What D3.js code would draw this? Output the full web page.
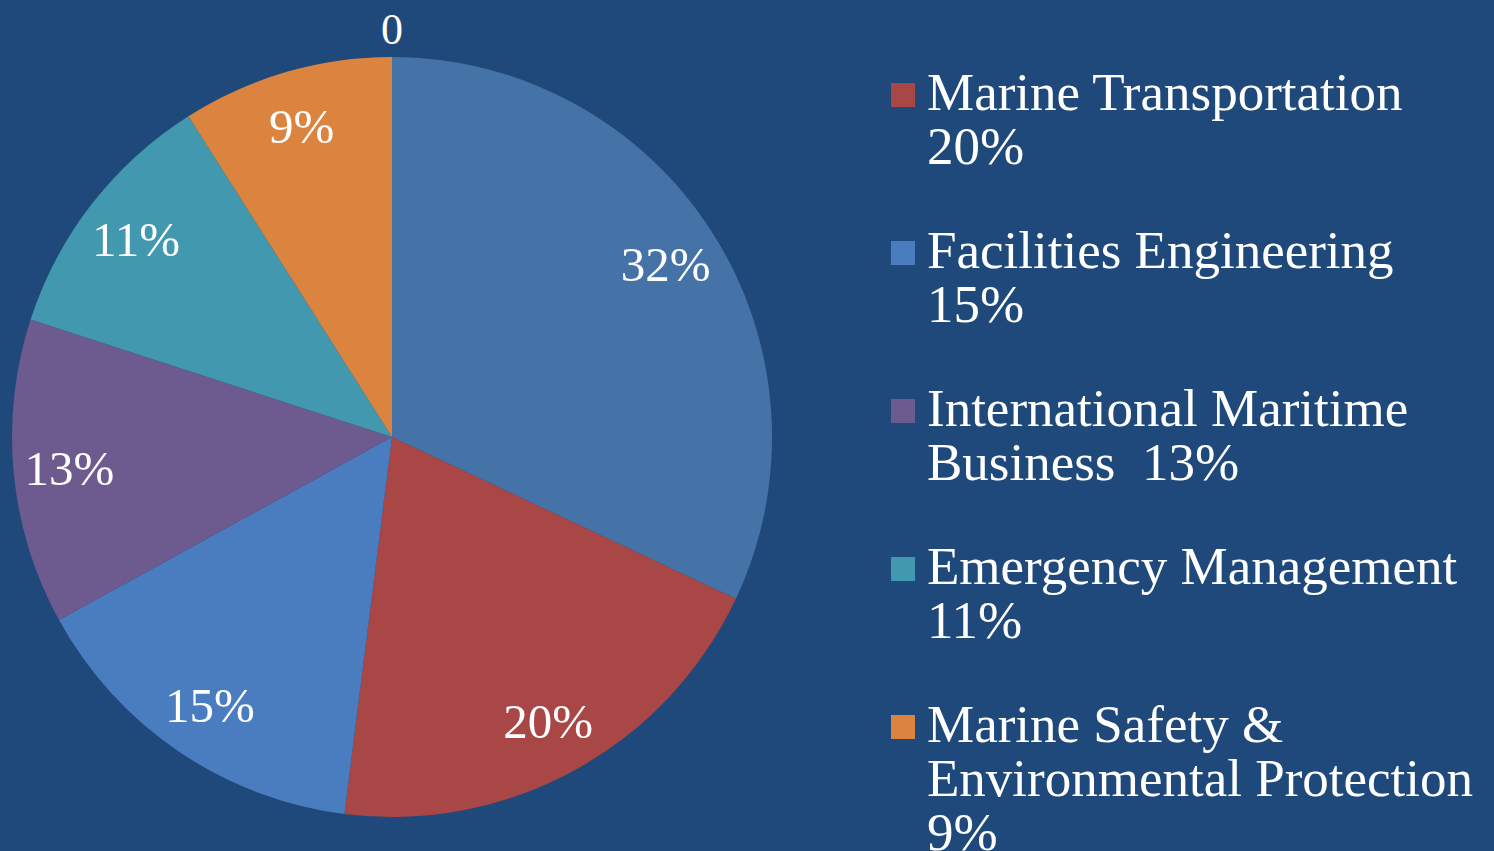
<!DOCTYPE html>
<html lang="en">
<head>
<meta charset="UTF-8">
<title>Pie chart</title>
<script src="https://d3js.org/d3.v7.min.js"></script>
<style>
    body, html { margin: 0; padding: 0; background: #20497b; overflow: hidden; }
    svg { display: block; font-family: "Liberation Serif", "Times New Roman", serif; }
</style>
</head>
<body>
<div id="chart"></div>
<script>
// slice data, clockwise from 12 o'clock
const categories = ["", "Marine Transportation", "Facilities Engineering", "International Maritime Business", "Emergency Management", "Marine Safety & Environmental Protection", ""];
const values = [32, 20, 15, 13, 11, 9, 0];
const sliceLabels = ["32%", "20%", "15%", "13%", "11%", "9%", "0"];
const colors = ["#4673a7", "#a84745", "#4a7dbf", "#6d5a8e", "#4298ae", "#db843f", "#db843f"];

// legend lines (legend shows the five named slices)
const legendLines = [
    ["Marine Transportation", "20%"],
    ["Facilities Engineering", "15%"],
    ["International Maritime", "Business  13%"],
    ["Emergency Management", "11%"],
    ["Marine Safety &", "Environmental Protection", "9%"]
];
const legendColors = ["#a84745", "#4a7dbf", "#6d5a8e", "#4298ae", "#db843f"];

const W = 1494, H = 851;
const cx = 392, cy = 437, R = 380;

const svg = d3.select("#chart").append("svg")
    .attr("width", W)
    .attr("height", H);

svg.append("rect").attr("width", W).attr("height", H).attr("fill", "#20497b");

const data = values.map((v, i) => ({ name: categories[i], value: v, label: sliceLabels[i], color: colors[i] }));

const pie = d3.pie().value(d => d.value).sort(null);
const arcs = pie(data);

const arc = d3.arc().innerRadius(0).outerRadius(R);
const labelArc = d3.arc().innerRadius(324).outerRadius(324);
const outerLabelArc = d3.arc().innerRadius(408).outerRadius(408);

const g = svg.append("g").attr("transform", `translate(${cx},${cy})`);

g.selectAll("path")
    .data(arcs.filter(d => d.data.value > 0))
    .enter().append("path")
    .attr("d", arc)
    .attr("fill", d => d.data.color);

g.selectAll("text.lbl")
    .data(arcs)
    .enter().append("text")
    .attr("class", "lbl")
    .attr("transform", d => `translate(${(d.data.value > 0 ? labelArc : outerLabelArc).centroid(d)})`)
    .attr("text-anchor", "middle")
    .attr("dy", "0.35em")
    .attr("fill", "#fff")
    .style("font-size", d => d.data.value > 0 ? "49px" : "44px")
    .text(d => d.data.label);

// legend
const legend = svg.append("g").attr("transform", "translate(891,0)");
const firstBase = 110, entryGap = 158, lineGap = 54;

legendLines.forEach((lines, i) => {
    const base = firstBase + i * entryGap;
    legend.append("rect")
        .attr("x", 0)
        .attr("y", base - 27)
        .attr("width", 24)
        .attr("height", 24)
        .attr("fill", legendColors[i]);
    const t = legend.append("text")
        .attr("x", 36)
        .attr("y", base)
        .attr("fill", "#fff")
        .style("font-size", "53px")
        .style("white-space", "pre");
    lines.forEach((ln, j) => {
        t.append("tspan")
            .attr("x", 36)
            .attr("y", base + j * lineGap)
            .text(ln);
    });
});
</script>
</body>
</html>
